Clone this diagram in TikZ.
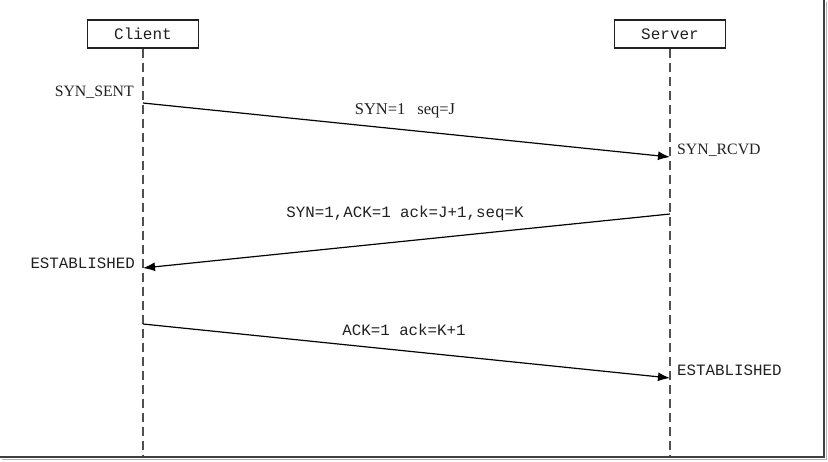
\documentclass[tikz,border=0pt]{standalone}
\usepackage{fontspec}
\setmainfont{Liberation Serif}
\newfontfamily\monof{Liberation Mono}
\usetikzlibrary{arrows.meta}
\definecolor{ink}{HTML}{202020}
\definecolor{lifegray}{HTML}{505050}
\tikzset{
  actor/.style={draw=ink, line width=1.4pt, minimum width=111pt, minimum height=28pt, inner sep=0pt, font=\monof\fontsize{16}{18}\selectfont, text=ink},
  lifeline/.style={draw=lifegray, line width=1.6pt, dash pattern=on 9pt off 5pt},
  msg/.style={draw=black, line width=1.2pt, -{Latex[length=12pt,width=9pt]}},
  seriflabel/.style={font=\fontsize{15.8}{18}\selectfont, text=ink, inner sep=0pt},
  monolabel/.style={font=\monof\fontsize{15.8}{18}\selectfont, text=ink, inner sep=0pt},
}
\begin{document}
\begin{tikzpicture}[x=1pt,y=-1pt]
\useasboundingbox (0,0) rectangle (828,461);
% frame (screenshot border with shadow)
\draw[draw=black!30, line width=1.5pt] (826.5,2) -- (826.5,459.5) -- (2,459.5);
\draw[draw=black!75, line width=2.2pt] (824,0) -- (824,457) -- (0,457);
% actors
\node[actor] (client) at (143,34) {Client};
\node[actor] (server) at (670,34) {Server};
% lifeline ends
\coordinate (cend) at (143,455);
\coordinate (send) at (670,455);
\draw[lifeline] (client.south) -- (cend);
\draw[lifeline] (server.south) -- (send);
% message anchors
\coordinate (c1) at (143,103);
\coordinate (s1) at (670,157);
\coordinate (s2) at (670,214);
\coordinate (c2) at (143,268);
\coordinate (c3) at (143,324);
\coordinate (s3) at (670,378);
\draw[msg] (c1) -- (s1);
\draw[msg] (s2) -- (c2);
\draw[msg] (c3) -- (s3);
% message labels
\node[seriflabel, font=\fontsize{16.5}{18}\selectfont] (l1) at (405,111) {SYN=1\hspace{12pt}seq=J};
\node[monolabel] (l2) at (405,213) {SYN=1,ACK=1 ack=J+1,seq=K};
\node[monolabel] (l3) at (404,330) {ACK=1 ack=K+1};
% state labels
\node[seriflabel, anchor=east] (st1) at (134,92) {SYN\_SENT};
\node[seriflabel, anchor=west] (st2) at (677,150) {SYN\_RCVD};
\node[monolabel, anchor=east] (st3) at (135,263) {ESTABLISHED};
\node[monolabel, anchor=west] (st4) at (677,370) {ESTABLISHED};
\end{tikzpicture}
\end{document}
